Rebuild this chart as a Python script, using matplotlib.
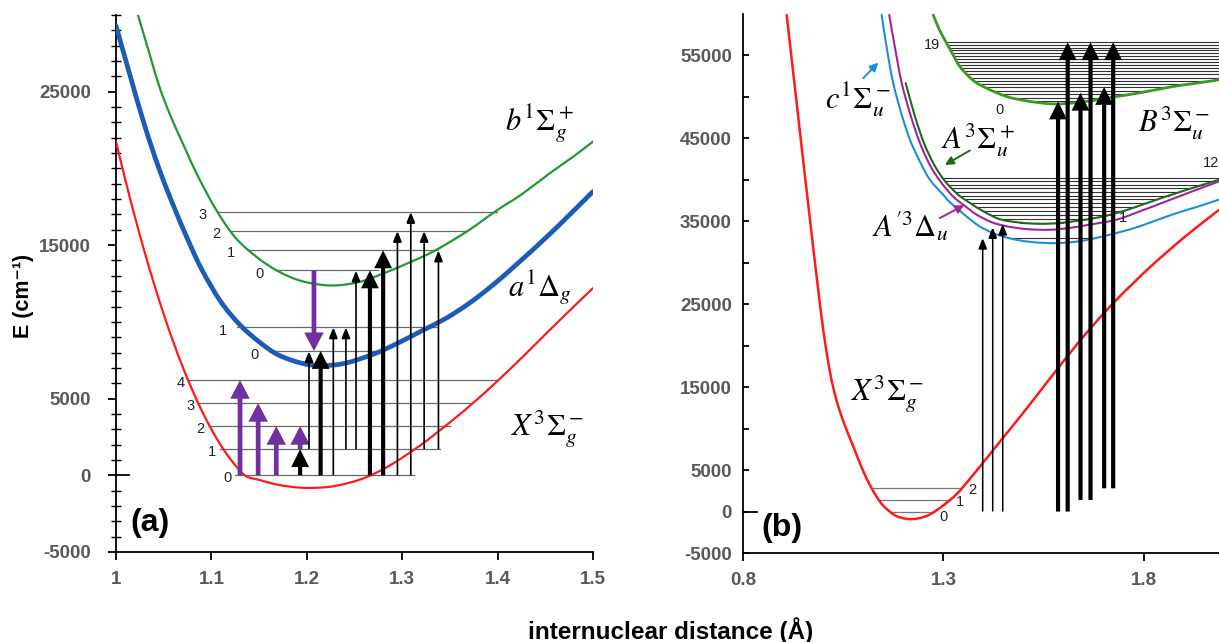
import numpy as np
import matplotlib
matplotlib.use("Agg")
import matplotlib.pyplot as plt
from matplotlib.patches import FancyArrowPatch, PathPatch
from matplotlib.path import Path

plt.rcParams['font.family'] = ['Liberation Sans', 'DejaVu Sans']

# ---------------- panel (a) data ----------------
a_r_X = [1.000, 1.010, 1.020, 1.030, 1.040, 1.050, 1.060, 1.070, 1.080, 1.090, 1.100, 1.110, 1.120,
         1.135, 1.150, 1.170, 1.190, 1.207, 1.225, 1.245, 1.265, 1.290, 1.320, 1.350, 1.375, 1.400,
         1.430, 1.460, 1.500]
a_E_X = [21750, 19200, 16800, 14550, 12450, 10500, 8700, 7050, 5550, 4200, 3000, 1950, 1050,
         0, -300, -620, -790, -820, -740, -480, -60, 750, 2000, 3450, 4750, 6150,
         7950, 9800, 12200]

a_r_a = [1.000, 1.015, 1.030, 1.045, 1.060, 1.075, 1.090, 1.110, 1.130, 1.150, 1.170, 1.195,
         1.215, 1.240, 1.270, 1.295, 1.320, 1.345, 1.370, 1.395, 1.420, 1.450, 1.475, 1.500]
a_E_a = [29300, 26000, 22800, 20000, 17600, 15400, 13400, 11300, 9800, 8700, 7850, 7300,
         7150, 7300, 7900, 8600, 9400, 10200, 11200, 12400, 13750, 15450, 16950, 18500]

a_r_b = [1.0224, 1.035, 1.046, 1.058, 1.071, 1.085, 1.105, 1.125, 1.148, 1.170, 1.195, 1.226,
         1.255, 1.280, 1.305, 1.333, 1.368, 1.400, 1.425, 1.455, 1.480, 1.500]
a_E_b = [30130, 27500, 25230, 23300, 21500, 19600, 17300, 15500, 14200, 13300, 12650, 12370,
         12600, 13150, 13800, 14600, 15900, 17300, 18300, 19700, 20800, 21750]

# vibrational levels (energy, left end, right end)
a_lev_X_E = [0, 1700, 3200, 4700, 6200]
a_lev_X_lo = [1.125, 1.109, 1.097, 1.086, 1.076]
a_lev_X_hi = [1.312, 1.340, 1.350, 1.374, 1.399]
a_lev_a_E = [8100, 9650]
a_lev_a_lo = [1.160, 1.127]
a_lev_a_hi = [1.277, 1.336]
a_lev_b_E = [13350, 14660, 15930, 17170]
a_lev_b_lo = [1.167, 1.137, 1.121, 1.107]
a_lev_b_hi = [1.275, 1.338, 1.368, 1.399]

# transitions (x position, start energy, end energy)
a_pu_x = [1.130, 1.149, 1.168, 1.193]
a_pu_from = [0, 0, 0, 1700]
a_pu_to = [6200, 4700, 3200, 3200]
a_pd_x = [1.2075]
a_pd_from = [13350]
a_pd_to = [8100]
a_thick_x = [1.193, 1.2145, 1.2662, 1.280]
a_thick_from = [0, 0, 0, 0]
a_thick_to = [1700, 8100, 13350, 14660]
a_thin_x = [1.2023, 1.2278, 1.241, 1.2516, 1.295, 1.309, 1.323, 1.338]
a_thin_from = [1700, 0, 1700, 1700, 0, 0, 1700, 1700]
a_thin_to = [8100, 9650, 9650, 13350, 15930, 17170, 15930, 14660]

# ---------------- panel (b) data ----------------
b_r_X = [0.909, 0.934, 0.959, 0.975, 0.987, 1.000, 1.017, 1.034, 1.054, 1.075, 1.097, 1.117,
         1.134, 1.150, 1.179, 1.208, 1.236, 1.266, 1.299, 1.333, 1.366, 1.399, 1.448, 1.499,
         1.541, 1.582, 1.623, 1.666, 1.723, 1.778, 1.815, 1.865, 1.927, 1.987]
b_E_X = [59890, 49200, 38600, 31900, 27000, 22000, 16800, 13300, 10400, 7870, 5200, 3150,
         1750, 700, -450, -880, -840, -360, 720, 2100, 3950, 5900, 8850, 11900,
         14500, 17050, 19550, 22050, 25100, 27750, 29450, 31600, 34100, 36350]

b_r_c = [1.1458, 1.160, 1.1748, 1.195, 1.2165, 1.2414, 1.2663, 1.2995, 1.3162, 1.3578, 1.390,
         1.4242, 1.465, 1.5075, 1.550, 1.5905, 1.640, 1.6903, 1.740, 1.790, 1.870, 1.930, 1.987]
b_E_c = [59890, 55500, 51660, 48000, 44830, 42200, 40010, 38200, 37300, 35580, 34400,
         33580, 32950, 32570, 32400, 32380, 32600, 33100, 33700, 34400, 35800, 36700, 37600]

b_r_Ap = [1.1648, 1.180, 1.196, 1.218, 1.241, 1.265, 1.291, 1.324, 1.355, 1.383, 1.420, 1.458,
          1.510, 1.566, 1.615, 1.665, 1.732, 1.790, 1.850, 1.920, 1.987]
b_E_Ap = [59890, 55700, 51660, 47800, 44500, 41900, 39900, 38000, 36800, 35800, 34900, 34400,
          34050, 33980, 34200, 34600, 35200, 36200, 37300, 38600, 39800]

b_r_A = [1.206, 1.228, 1.251, 1.276, 1.303, 1.337, 1.370, 1.400, 1.441, 1.490, 1.541, 1.590,
         1.640, 1.690, 1.740, 1.790, 1.850, 1.920, 1.987]
b_E_A = [51660, 47800, 44500, 41900, 39900, 38200, 37100, 36200, 35250, 34850, 34700, 34800,
         35100, 35500, 36100, 36900, 37900, 39000, 40000]

b_r_B = [1.2746, 1.290, 1.308, 1.325, 1.341, 1.374, 1.410, 1.4576, 1.510, 1.5738, 1.640,
         1.707, 1.790, 1.873, 1.930, 1.987]
b_E_B = [59890, 58100, 56480, 55000, 53660, 52000, 51000, 50050, 49500, 49160, 49350,
         49850, 50500, 51250, 51650, 52060]

b_lev_X = [0, 1400, 2800]
b_lev_c = [33000]
b_lev_A = [34850, 35330, 35805, 36275, 36740, 37200, 37655, 38105, 38550, 38990, 39425,
           39855, 40280]
b_lev_B = [49450, 49880, 50310, 50730, 51140, 51550, 51950, 52340, 52730, 53110, 53490,
           53860, 54220, 54580, 54930, 55270, 55610, 55940, 56270, 56590]

b_thin_x = [1.398, 1.423, 1.448]
b_thin_from = [0, 0, 0]
b_thin_to = [33000, 34300, 34700]
b_thick_x = [1.586, 1.610, 1.642, 1.667, 1.701, 1.7235]
b_thick_from = [0, 0, 1400, 1400, 2800, 2800]
b_thick_to = [49450, 56590, 50500, 56590, 51200, 56590]

a_xticks = [1.0, 1.1, 1.2, 1.3, 1.4, 1.5]
a_xticklabels = ['1', '1.1', '1.2', '1.3', '1.4', '1.5']
a_yticks = [-5000, 0, 5000, 15000, 25000]
a_yticklabels = ['-5000', '0', '5000', '15000', '25000']
b_xticks = [0.8, 1.3, 1.8]
b_xticklabels = ['0.8', '1.3', '1.8']
b_yticks = [-5000, 0, 5000, 10000, 15000, 20000, 25000, 30000, 35000, 40000, 45000, 50000, 55000]
b_yticklabels = ['-5000', '0', '5000', '', '15000', '', '25000', '', '35000', '', '45000', '', '55000']

# ---------------- helpers ----------------
RED = '#ff1a1a'
BLUE = '#1a5cb8'
GREEN = '#1f9a30'
PURPLE = '#7030a0'
CBLUE = '#1b8fd8'
MAGENTA = '#a3239c'
DKGREEN = '#1c6b1c'
BGREEN = '#3a9a25'
TICKC = '#595959'


def smooth_curve(ax, xs, ys, **kw):
    """Draw a smooth (Catmull-Rom / Bezier) line through the read points."""
    P = np.column_stack([xs, ys]).astype(float)
    n = len(P)
    verts = [P[0]]
    codes = [Path.MOVETO]
    for i in range(n - 1):
        p0 = P[i - 1] if i > 0 else P[i]
        p1 = P[i]
        p2 = P[i + 1]
        p3 = P[i + 2] if i + 2 < n else P[i + 1]
        verts += [p1 + (p2 - p0) / 6.0, p2 - (p3 - p1) / 6.0, p2]
        codes += [Path.CURVE4] * 3
    patch = PathPatch(Path(verts, codes), fill=False, capstyle='round', joinstyle='round', **kw)
    ax.add_patch(patch)


def varrow(ax, x, y0, y1, color, lw, hl, hw, z=6):
    p = FancyArrowPatch((x, y0), (x, y1),
                        arrowstyle=f'-|>,head_length={hl},head_width={hw}',
                        mutation_scale=1, lw=lw, color=color, shrinkA=0, shrinkB=0,
                        joinstyle='miter', capstyle='butt', zorder=z)
    ax.add_patch(p)


def small_arrow(ax, tail, head, color):
    p = FancyArrowPatch(tail, head, arrowstyle='-|>,head_length=5,head_width=2.5',
                        mutation_scale=1, lw=1.4, color=color, shrinkA=0, shrinkB=0, zorder=7)
    ax.add_patch(p)


def branches(r, E, level, right_limit=2.05):
    r = np.asarray(r, float)
    E = np.asarray(E, float)
    i = int(np.argmin(E))
    xl = np.interp(level, E[:i + 1][::-1], r[:i + 1][::-1])
    if level >= E[-1]:
        xr = right_limit
    else:
        xr = np.interp(level, E[i:], r[i:])
    return xl, xr


def style_ticks(ax):
    for lab in ax.get_xticklabels() + ax.get_yticklabels():
        lab.set_fontweight('bold')
        lab.set_color(TICKC)
        lab.set_fontsize(13.5)
        lab.set_family(['Liberation Sans', 'DejaVu Sans'])


W, H = 1219, 642
fig = plt.figure(figsize=(W / 100, H / 100), dpi=100)

# ================= panel (a) =================
axA = fig.add_axes([116 / W, (H - 552) / H, 477 / W, 537 / H])
axA.set_xlim(1.0, 1.5)
axA.set_ylim(-5000, 30000)
for s in ['top', 'right']:
    axA.spines[s].set_visible(False)
for s in ['left', 'bottom']:
    axA.spines[s].set_linewidth(1.3)

lvl_kw = dict(color='#6a6a6a', lw=0.9, zorder=2)
for E, lo, hi in zip(a_lev_X_E, a_lev_X_lo, a_lev_X_hi):
    axA.plot([lo, hi], [E, E], **lvl_kw)
for E, lo, hi in zip(a_lev_a_E, a_lev_a_lo, a_lev_a_hi):
    axA.plot([lo, hi], [E, E], **lvl_kw)
for E, lo, hi in zip(a_lev_b_E, a_lev_b_lo, a_lev_b_hi):
    axA.plot([lo, hi], [E, E], **lvl_kw)

smooth_curve(axA, a_r_X, a_E_X, color=RED, lw=1.6, zorder=3)
smooth_curve(axA, a_r_a, a_E_a, color=BLUE, lw=3.4, zorder=3)
smooth_curve(axA, a_r_b, a_E_b, color=GREEN, lw=1.6, zorder=3)

num_kw = dict(fontsize=10.5, color='#222222', va='center', ha='right', zorder=8)
for v, (E, lo) in enumerate(zip(a_lev_X_E, a_lev_X_lo)):
    axA.text(lo - 0.004, E - 200, str(v), **num_kw)
for v, (E, lo) in enumerate(zip(a_lev_a_E, a_lev_a_lo)):
    axA.text(lo - 0.011, E - 250, str(v), **num_kw)
for v, (E, lo) in enumerate(zip(a_lev_b_E, a_lev_b_lo)):
    axA.text(lo - 0.012, E - 200, str(v), **num_kw)

for x, y0, y1 in zip(a_pu_x, a_pu_from, a_pu_to):
    varrow(axA, x, y0, y1, PURPLE, 3.4, 8, 4.2)
for x, y0, y1 in zip(a_pd_x, a_pd_from, a_pd_to):
    varrow(axA, x, y0, y1, PURPLE, 3.4, 8, 4.2)
for x, y0, y1 in zip(a_thick_x, a_thick_from, a_thick_to):
    varrow(axA, x, y0, y1, 'black', 3.0, 8, 4.0)
for x, y0, y1 in zip(a_thin_x, a_thin_from, a_thin_to):
    varrow(axA, x, y0, y1, 'black', 1.2, 6.5, 2.6)

mkw = dict(fontsize=22, math_fontfamily='stix', ha='center', va='center', color='black')
axA.text(1.4445, 22900, r'$b^1\Sigma_g^+$', **mkw)
axA.text(1.4445, 12200, r'$a^1\Delta_g$', **mkw)
axA.text(1.452, 3000, r'$X^3\Sigma_g^-$', **mkw)
axA.text(1.036, -3100, '(a)', fontsize=23, fontweight='bold', ha='center', va='center')

axA.set_xticks(a_xticks)
axA.set_xticklabels(a_xticklabels)
axA.set_yticks(a_yticks)
axA.set_yticklabels(a_yticklabels)
axA.set_yticks(np.arange(-5000, 30001, 1000), minor=True)
axA.tick_params(axis='x', which='major', direction='out', length=6, width=1.3, pad=8)
axA.tick_params(axis='y', which='major', direction='out', length=6, width=1.3, pad=12)
axA.tick_params(axis='y', which='minor', direction='inout', length=7, width=1.0)
axA.plot([0, 0.028], [0, 0], transform=axA.get_yaxis_transform(), color='black', lw=1.3,
         clip_on=False, zorder=4)
style_ticks(axA)

# ================= panel (b) =================
axB = fig.add_axes([743 / W, (H - 553) / H, 481 / W, 539 / H])
axB.set_xlim(0.8, 2.0)
axB.set_ylim(-5000, 60000)
for s in ['top', 'right']:
    axB.spines[s].set_visible(False)
for s in ['left', 'bottom']:
    axB.spines[s].set_linewidth(1.3)

blvl = dict(color='#333333', lw=0.8, zorder=2)
for E in b_lev_X:
    xl, xr = branches(b_r_X, b_E_X, E)
    axB.plot([xl, xr], [E, E], color='#777777', lw=0.9, zorder=2)
for E in b_lev_c:
    xl, xr = branches(b_r_c, b_E_c, E)
    axB.plot([xl, xr], [E, E], **blvl)
for E in b_lev_A:
    xl, xr = branches(b_r_A, b_E_A, E)
    axB.plot([xl, xr], [E, E], **blvl)
for E in b_lev_B:
    xl, xr = branches(b_r_B, b_E_B, E)
    axB.plot([xl, xr], [E, E], **blvl)

smooth_curve(axB, b_r_X, b_E_X, color=RED, lw=1.8, zorder=3)
smooth_curve(axB, b_r_c, b_E_c, color=CBLUE, lw=1.5, zorder=3)
smooth_curve(axB, b_r_A, b_E_A, color=DKGREEN, lw=1.5, zorder=3)
smooth_curve(axB, b_r_Ap, b_E_Ap, color=MAGENTA, lw=1.5, zorder=3)
smooth_curve(axB, b_r_B, b_E_B, color=BGREEN, lw=2.0, zorder=3)

for x, y0, y1 in zip(b_thin_x, b_thin_from, b_thin_to):
    varrow(axB, x, y0, y1, 'black', 1.1, 6.5, 2.6)
for x, y0, y1 in zip(b_thick_x, b_thick_from, b_thick_to):
    varrow(axB, x, y0, y1, 'black', 3.0, 8, 4.0)

small_arrow(axB, (1.100, 52260), (1.1374, 54140), CBLUE)
small_arrow(axB, (1.366, 43540), (1.3037, 41800), DKGREEN)
small_arrow(axB, (1.291, 35390), (1.352, 36950), MAGENTA)

axB.text(1.0855, 49650, r'$c^1\Sigma_u^-$', **mkw)
axB.text(1.387, 44830, r'$A^3\Sigma_u^+$', **mkw)
axB.text(1.2165, 34280, r'$A^{\prime 3}\Delta_u$', **mkw)
axB.text(1.785, 46870, r'$B^3\Sigma_u^-$', fontsize=22, math_fontfamily='stix',
         ha='left', va='center')
axB.text(1.1616, 14100, r'$X^3\Sigma_g^-$', **mkw)
axB.text(0.897, -1930, '(b)', fontsize=23, fontweight='bold', ha='center', va='center')

nkw = dict(fontsize=10.5, color='#222222', ha='center', va='center', zorder=8)
axB.text(1.2705, 56270, '19', **nkw)
axB.text(1.441, 48440, '0', **nkw)
axB.text(1.747, 35390, '1', **nkw)
axB.text(1.968, 42000, '12', **nkw)
axB.text(1.2996, -640, '0', **nkw)
axB.text(1.341, 1120, '1', **nkw)
axB.text(1.372, 2650, '2', **nkw)

axB.set_xticks(b_xticks)
axB.set_xticklabels(b_xticklabels)
axB.set_yticks(b_yticks)
axB.set_yticklabels(b_yticklabels)
axB.tick_params(axis='x', which='major', direction='out', length=6, width=1.3, pad=8)
axB.tick_params(axis='y', which='major', direction='in', length=4, width=1.3, pad=8)
axB.plot([0, 0.03], [0, 0], transform=axB.get_yaxis_transform(), color='black', lw=1.3,
         clip_on=False, zorder=4)
style_ticks(axB)

fig.text(24 / W, 1 - 296 / H, 'E (cm⁻¹)', rotation=90, fontsize=15.5, fontweight='bold',
         ha='center', va='center', family=['Liberation Sans', 'DejaVu Sans'])
fig.text(671 / W, 1 - 631 / H, 'internuclear distance (Å)', fontsize=17.5, fontweight='bold',
         ha='center', va='center')

fig.savefig('out.png', dpi=100)
